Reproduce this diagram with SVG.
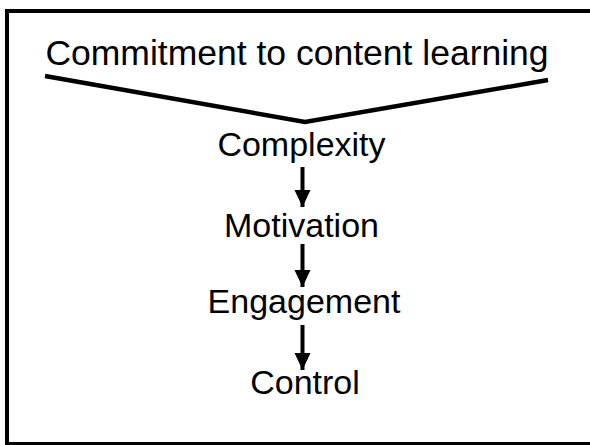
<svg xmlns="http://www.w3.org/2000/svg" width="590" height="445" viewBox="0 0 590 445">
<style>
text{font-family:"Liberation Sans",Arial,sans-serif;font-size:34px;fill:#000;text-anchor:middle}
.c{stroke:#000;stroke-width:4.5;fill:none}
.a{stroke:#000;stroke-width:4;fill:none}
</style>
<defs>
<marker id="ah" markerUnits="userSpaceOnUse" markerWidth="16" markerHeight="18" refX="17" refY="8" orient="auto">
<path d="M0,0 L17,8 L0,16 z" fill="#000"/>
</marker>
</defs>
<rect x="0" y="0" width="590" height="445" fill="#fff"/>
<rect x="7" y="11" width="600" height="433" fill="none" stroke="#000" stroke-width="4"/>
<g id="n-commitment"><text x="297" y="65" style="font-size:35.5px">Commitment to content learning</text></g>
<g id="n-complexity"><text x="301.5" y="156">Complexity</text></g>
<g id="n-motivation"><text x="301.5" y="237">Motivation</text></g>
<g id="n-engagement"><text x="304" y="313">Engagement</text></g>
<g id="n-control"><text x="305" y="394">Control</text></g>
<g id="connectors">
<polyline class="c" points="45,76 305,122 548,80"/>
<line class="a" x1="302.5" y1="167" x2="302.5" y2="207" marker-end="url(#ah)"/>
<line class="a" x1="302.5" y1="244" x2="302.5" y2="287" marker-end="url(#ah)"/>
<line class="a" x1="302.5" y1="325" x2="302.5" y2="370" marker-end="url(#ah)"/>
</g>
</svg>
